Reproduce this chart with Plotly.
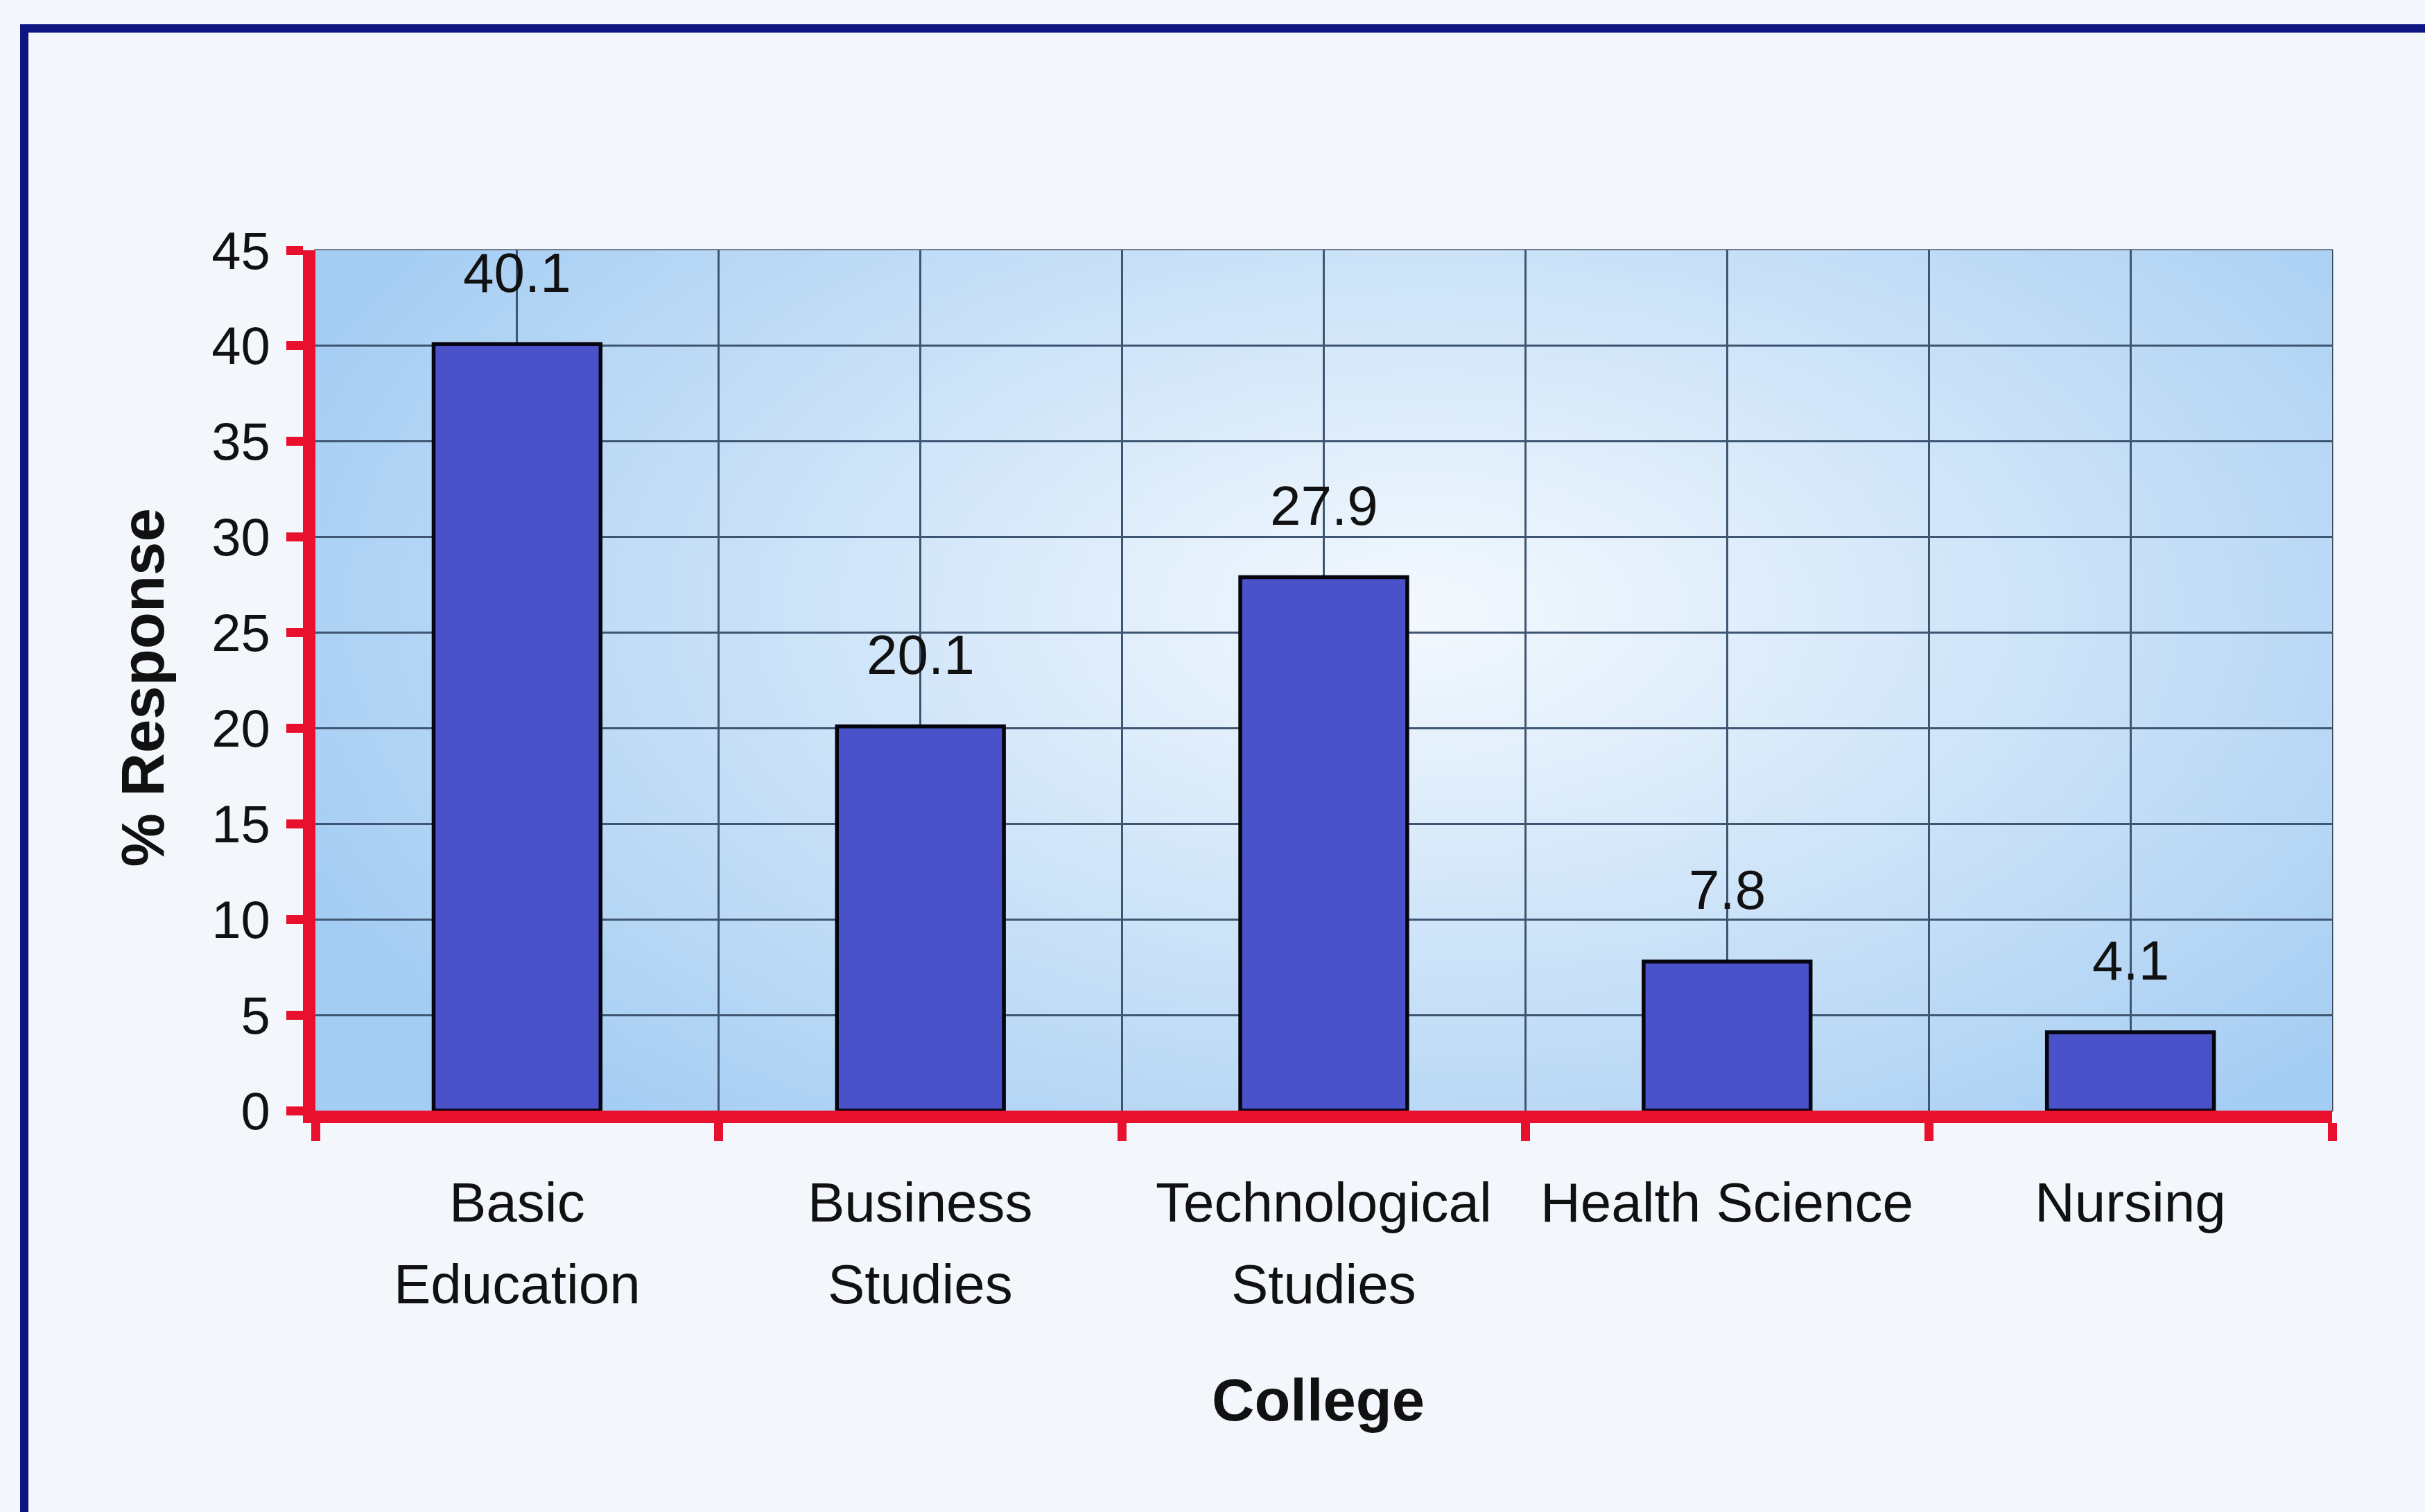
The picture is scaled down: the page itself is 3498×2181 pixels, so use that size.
import base64
import struct
import zlib

import numpy as np
import plotly.graph_objects as go

# ---- data ----
colleges = ["Basic Education", "Business Studies", "Technological Studies",
            "Health Science", "Nursing"]
label_lines = [["Basic", "Education"], ["Business", "Studies"],
               ["Technological", "Studies"], ["Health Science"], ["Nursing"]]
response_pct = [40.1, 20.1, 27.9, 7.8, 4.1]
y_ticks = [0, 5, 10, 15, 20, 25, 30, 35, 40, 45]

# ---- styling ----
FONT = "Liberation Sans, Arial, Helvetica, sans-serif"
RED = "#e8102c"
GRID = "#3e5672"
BAR = "#4a52c9"
PAGE_BG = "#f3f7fc"
NAVY = "#0c1580"

W, H = 3498, 2181
M_L, M_R, M_T, M_B = 455, 134, 361, 579
PLOT_W = W - M_L - M_R
PLOT_H = H - M_T - M_B


def gradient_png(w=320, h=140):
    """Soft elliptical light-blue gradient used as the plot-area fill."""
    xs = np.linspace(0, 1, w)[None, :]
    ys = np.linspace(0, 1, h)[:, None]
    cx, cy, rx, ry = 0.55, 0.42, 0.62, 0.80
    t = np.sqrt(((xs - cx) / rx) ** 2 + ((ys - cy) / ry) ** 2)
    t = np.clip(t, 0, 1) ** 1.05
    inner = np.array([244, 249, 254], dtype=float)
    outer = np.array([164, 205, 243], dtype=float)
    img = inner[None, None, :] * (1 - t[..., None]) + outer[None, None, :] * t[..., None]
    img = np.clip(img, 0, 255).astype(np.uint8)
    raw = b"".join(b"\x00" + img[j].tobytes() for j in range(h))

    def chunk(tag, data):
        body = tag + data
        return struct.pack(">I", len(data)) + body + struct.pack(">I", zlib.crc32(body) & 0xFFFFFFFF)

    png = (b"\x89PNG\r\n\x1a\n"
           + chunk(b"IHDR", struct.pack(">IIBBBBB", w, h, 8, 2, 0, 0, 0))
           + chunk(b"IDAT", zlib.compress(raw, 9))
           + chunk(b"IEND", b""))
    return "data:image/png;base64," + base64.b64encode(png).decode()


x_pos = list(range(len(colleges)))
boundaries = [i - 0.5 for i in range(len(colleges) + 1)]

fig = go.Figure(
    go.Bar(
        x=x_pos,
        y=response_pct,
        width=0.414,
        marker=dict(color=BAR, line=dict(color="#05050f", width=5.5)),
        hovertext=colleges,
        showlegend=False,
    )
)

# value labels above each bar
annotations = []
for xi, v in zip(x_pos, response_pct):
    annotations.append(dict(
        x=xi, y=v, xref="x", yref="y", text=f"{v:.1f}", showarrow=False,
        yanchor="middle", yshift=103,
        font=dict(family=FONT, size=80, color="#111111"),
    ))

# category labels (one annotation per line for wider line spacing)
line_offsets = [-132, -250]
for xi, lines in zip(x_pos, label_lines):
    for k, line in enumerate(lines):
        annotations.append(dict(
            x=xi, y=0, xref="x", yref="paper", text=line, showarrow=False,
            yanchor="middle", yshift=line_offsets[k],
            font=dict(family=FONT, size=80, color="#111111"),
        ))

# axis titles
annotations.append(dict(
    x=0, y=0.5, xref="paper", yref="paper", text="<b>% Response</b>",
    showarrow=False, textangle=-90, xshift=-250, yshift=-11,
    xanchor="center", yanchor="middle",
    font=dict(family=FONT, size=87, color="#111111"),
))
annotations.append(dict(
    x=0.5, y=0, xref="paper", yref="paper", text="<b>College</b>",
    showarrow=False, xshift=-8, yshift=-417,
    xanchor="center", yanchor="middle",
    font=dict(family=FONT, size=85, color="#111111"),
))


# outer frame, partly running off the page
def px_to_paper_x(px):
    return (px - M_L) / PLOT_W


def px_to_paper_y(py):
    return (H - M_B - py) / PLOT_H


shapes = [
    dict(type="rect", xref="paper", yref="paper",
         x0=px_to_paper_x(35), x1=px_to_paper_x(3560),
         y0=px_to_paper_y(2260), y1=px_to_paper_y(41),
         line=dict(color=NAVY, width=12), fillcolor="rgba(0,0,0,0)", layer="below"),
    dict(type="rect", xref="paper", yref="paper", x0=0, x1=1, y0=0, y1=1,
         line=dict(color="#3a4a5e", width=3), fillcolor="rgba(0,0,0,0)", layer="below"),
]

fig.update_layout(
    width=W, height=H,
    margin=dict(l=M_L, r=M_R, t=M_T, b=M_B, autoexpand=False),
    paper_bgcolor=PAGE_BG,
    plot_bgcolor="rgba(0,0,0,0)",
    bargap=0.586,
    font=dict(family=FONT, color="#111111"),
    annotations=annotations,
    shapes=shapes,
    images=[dict(
        source=gradient_png(), xref="x", yref="y",
        x=-0.5, y=45, sizex=5, sizey=45,
        xanchor="left", yanchor="top", sizing="stretch", layer="below",
    )],
)

fig.update_xaxes(
    range=[-0.5, 4.5],
    tickvals=x_pos,
    showticklabels=False,
    ticks="",
    showgrid=True, gridcolor=GRID, gridwidth=2.5,
    zeroline=False,
    showline=True, linecolor=RED, linewidth=18,
    minor=dict(
        tickvals=boundaries, ticks="outside", ticklen=26, tickwidth=13,
        tickcolor=RED, showgrid=True, gridcolor=GRID, gridwidth=2.5,
    ),
    fixedrange=True,
)

fig.update_yaxes(
    range=[0, 45],
    tickvals=y_ticks,
    ticks="outside", ticklen=24, tickwidth=13, tickcolor=RED,
    tickfont=dict(family=FONT, size=76, color="#111111"),
    ticklabelstandoff=8,
    showgrid=True, gridcolor=GRID, gridwidth=2.5,
    zeroline=False,
    showline=True, linecolor=RED, linewidth=18,
    fixedrange=True,
)

fig.write_html("out.html")
